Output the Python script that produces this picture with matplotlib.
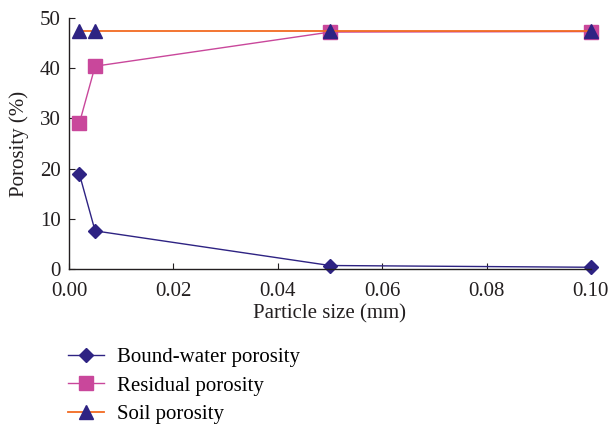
import matplotlib
matplotlib.use("Agg")
import matplotlib.pyplot as plt

particle_size = [0.002, 0.005, 0.05, 0.1]
bound_water = [18.9, 7.6, 0.7, 0.35]
residual = [29.1, 40.4, 47.2, 47.3]
soil = [47.4, 47.4, 47.4, 47.4]

plt.rcParams['font.family'] = ['Liberation Serif', 'DejaVu Serif']

navy = '#2e2383'
magenta = '#c9479b'
orange = '#f26a21'
textc = '#231f20'

fig = plt.figure(figsize=(6.09, 4.25), dpi=100)
ax = fig.add_axes([0.1133, 0.367, 0.857, 0.5906])

l3, = ax.plot(particle_size, soil, color=orange, lw=1.3, marker='^', ms=10.5,
              mfc=navy, mec=navy, label='Soil porosity', zorder=3, clip_on=False)
l2, = ax.plot(particle_size, residual, color=magenta, lw=1.0, marker='s', ms=9.5,
              mfc=magenta, mec=magenta, label='Residual porosity', zorder=2, clip_on=False)
l1, = ax.plot(particle_size, bound_water, color=navy, lw=1.0, marker='D', ms=7.5,
              mfc=navy, mec=navy, label='Bound-water porosity', zorder=2, clip_on=False)

ax.set_xlim(0, 0.1)
ax.set_ylim(0, 50)
ax.set_xticks([0, 0.02, 0.04, 0.06, 0.08, 0.10])
ax.set_xticklabels(['0.00', '0.02', '0.04', '0.06', '0.08', '0.10'])
ax.set_yticks([0, 10, 20, 30, 40, 50])
ax.tick_params(direction='in', length=4, labelsize=15, colors=textc)
ax.tick_params(axis='x', pad=9)
ax.tick_params(axis='y', pad=6)
ax.spines['top'].set_visible(False)
ax.spines['right'].set_visible(False)
for s in ['left', 'bottom']:
    ax.spines[s].set_color(textc)
    ax.spines[s].set_linewidth(1.0)

ax.set_xlabel('Particle size (mm)', fontsize=15, color=textc, labelpad=3)
ax.set_ylabel('Porosity (%)', fontsize=15, color=textc, labelpad=8)

fig.legend(handles=[l1, l2, l3], loc='upper left', bbox_to_anchor=(0.112, 0.182),
           frameon=False, fontsize=15, handlelength=1.7, labelspacing=0.42,
           handletextpad=0.65, borderaxespad=0, borderpad=0)

fig.savefig('out.png', dpi=100)
